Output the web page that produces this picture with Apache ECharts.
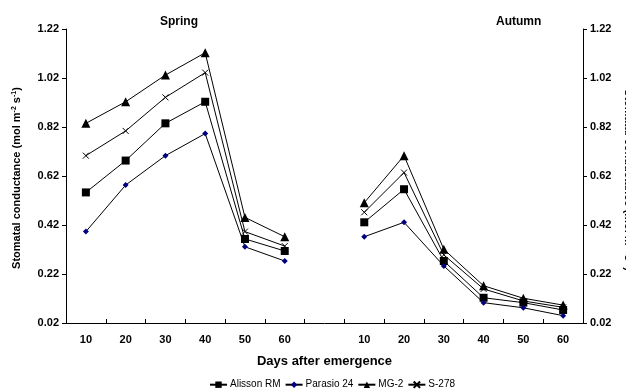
<!DOCTYPE html>
<html>
<head>
<meta charset="utf-8">
<script src="https://cdn.jsdelivr.net/npm/echarts@6/dist/echarts.min.js"></script>
<style>
  html, body { margin: 0; padding: 0; background: #fff; }
  #chart { width: 626px; height: 389px; }
</style>
</head>
<body>
<div id="chart"></div>
<script>
// sampling days, spring block then a blank slot then autumn block
var springDays = ['10', '20', '30', '40', '50', '60'];
var autumnDays = ['10', '20', '30', '40', '50', '60'];
var yTicks = [0.02, 0.22, 0.42, 0.62, 0.82, 1.02, 1.22];

// stomatal conductance (mol m-2 s-1)
var alissonSpring = [0.553, 0.683, 0.835, 0.923, 0.363, 0.314];
var alissonAutumn = [0.431, 0.566, 0.273, 0.123, 0.103, 0.073];
var parasioSpring = [0.393, 0.583, 0.703, 0.793, 0.331, 0.273];
var parasioAutumn = [0.372, 0.431, 0.253, 0.103, 0.082, 0.050];
var mg2Spring = [0.835, 0.923, 1.032, 1.123, 0.451, 0.372];
var mg2Autumn = [0.511, 0.703, 0.321, 0.172, 0.121, 0.093];
var s278Spring = [0.703, 0.804, 0.941, 1.042, 0.393, 0.334];
var s278Autumn = [0.472, 0.634, 0.298, 0.159, 0.110, 0.084];

var font = 'Liberation Sans, Arial, sans-serif';

// unique category keys, label shows the day only
var cats = springDays.map(function (d) { return 'sp-' + d; })
    .concat(['gap-'])
    .concat(autumnDays.map(function (d) { return 'au-' + d; }));

function join(sp, au) {
    return sp.concat([null]).concat(au);
}

function mkSeries(name, sp, au, symbol, size, color) {
    return {
        name: name, type: 'line', data: join(sp, au),
        symbol: symbol, symbolSize: size,
        connectNulls: false,
        lineStyle: { color: '#000', width: 1 },
        itemStyle: { color: color, borderColor: color, borderWidth: 0 },
        emphasis: { disabled: true },
        animation: false
    };
}

var crossPath = 'path://M0,0L10,10M10,0L0,10';

var series = [
    mkSeries('Alisson RM', alissonSpring, alissonAutumn, 'rect', 8, '#000'),
    mkSeries('Parasio 24', parasioSpring, parasioAutumn, 'diamond', 6, '#000080'),
    mkSeries('MG-2', mg2Spring, mg2Autumn, 'triangle', 9, '#000'),
    mkSeries('S-278', s278Spring, s278Autumn, crossPath, 6, '#000')
];
// the cross is drawn by its outline
series[3].itemStyle = { color: 'none', borderColor: '#000', borderWidth: 1 };

var yAxisBase = {
    type: 'value', min: yTicks[0], max: yTicks[yTicks.length - 1], interval: 0.2,
    splitLine: { show: false },
    axisLine: { show: true, lineStyle: { color: '#000', width: 1 } },
    axisTick: { show: true, length: 4, lineStyle: { color: '#000' } },
    axisLabel: {
        color: '#000', fontWeight: 'bold', fontSize: 11, fontFamily: font, margin: 7,
        formatter: function (v) { return v.toFixed(2); }
    }
};

var supRich = {
    t: { fill: '#000', fontWeight: 'bold', fontSize: 11, fontFamily: font },
    s: { fill: '#000', fontWeight: 'bold', fontSize: 7, fontFamily: font, padding: [0, 0, 6, 0] }
};
var yTitle = '{t|Stomatal conductance (mol m}{s|-2}{t| s}{s|-1}{t|)}';

var chart = echarts.init(document.getElementById('chart'));
chart.setOption({
    animation: false,
    grid: { left: 66, right: 43, top: 29, bottom: 66 },
    xAxis: {
        type: 'category', data: cats, boundaryGap: true,
        axisLine: { lineStyle: { color: '#000', width: 1 } },
        axisTick: { show: true, inside: true, length: 4, interval: 0, lineStyle: { color: '#000' } },
        axisLabel: {
            interval: 0, color: '#000', fontWeight: 'bold', fontSize: 11, fontFamily: font, margin: 11,
            formatter: function (v) { return v.split('-')[1]; }
        },
        name: 'Days after emergence', nameLocation: 'middle', nameGap: 32,
        nameTextStyle: { color: '#000', fontWeight: 'bold', fontSize: 13, fontFamily: font }
    },
    yAxis: [
        Object.assign({}, yAxisBase, { position: 'left' }),
        Object.assign({}, yAxisBase, { position: 'right' })
    ],
    legend: {
        top: 374, left: 204, itemWidth: 17, itemHeight: 8, itemGap: 4,
        textStyle: { color: '#000', fontSize: 10, fontFamily: font, padding: [0, 0, 0, -2] },
        data: ['Alisson RM', 'Parasio 24', 'MG-2', 'S-278']
    },
    graphic: [
        { type: 'text', left: 160, top: 16,
          style: { text: 'Spring', fill: '#000', font: 'bold 12px ' + font } },
        { type: 'text', left: 496, top: 16,
          style: { text: 'Autumn', fill: '#000', font: 'bold 12px ' + font } },
        { type: 'text', x: 17, y: 178, rotation: Math.PI / 2,
          style: { text: yTitle, align: 'center', verticalAlign: 'middle', rich: supRich } },
        { type: 'text', x: 628, y: 180, rotation: -Math.PI / 2,
          style: { text: yTitle, align: 'center', verticalAlign: 'middle', rich: supRich } }
    ],
    series: series
});
</script>
</body>
</html>
